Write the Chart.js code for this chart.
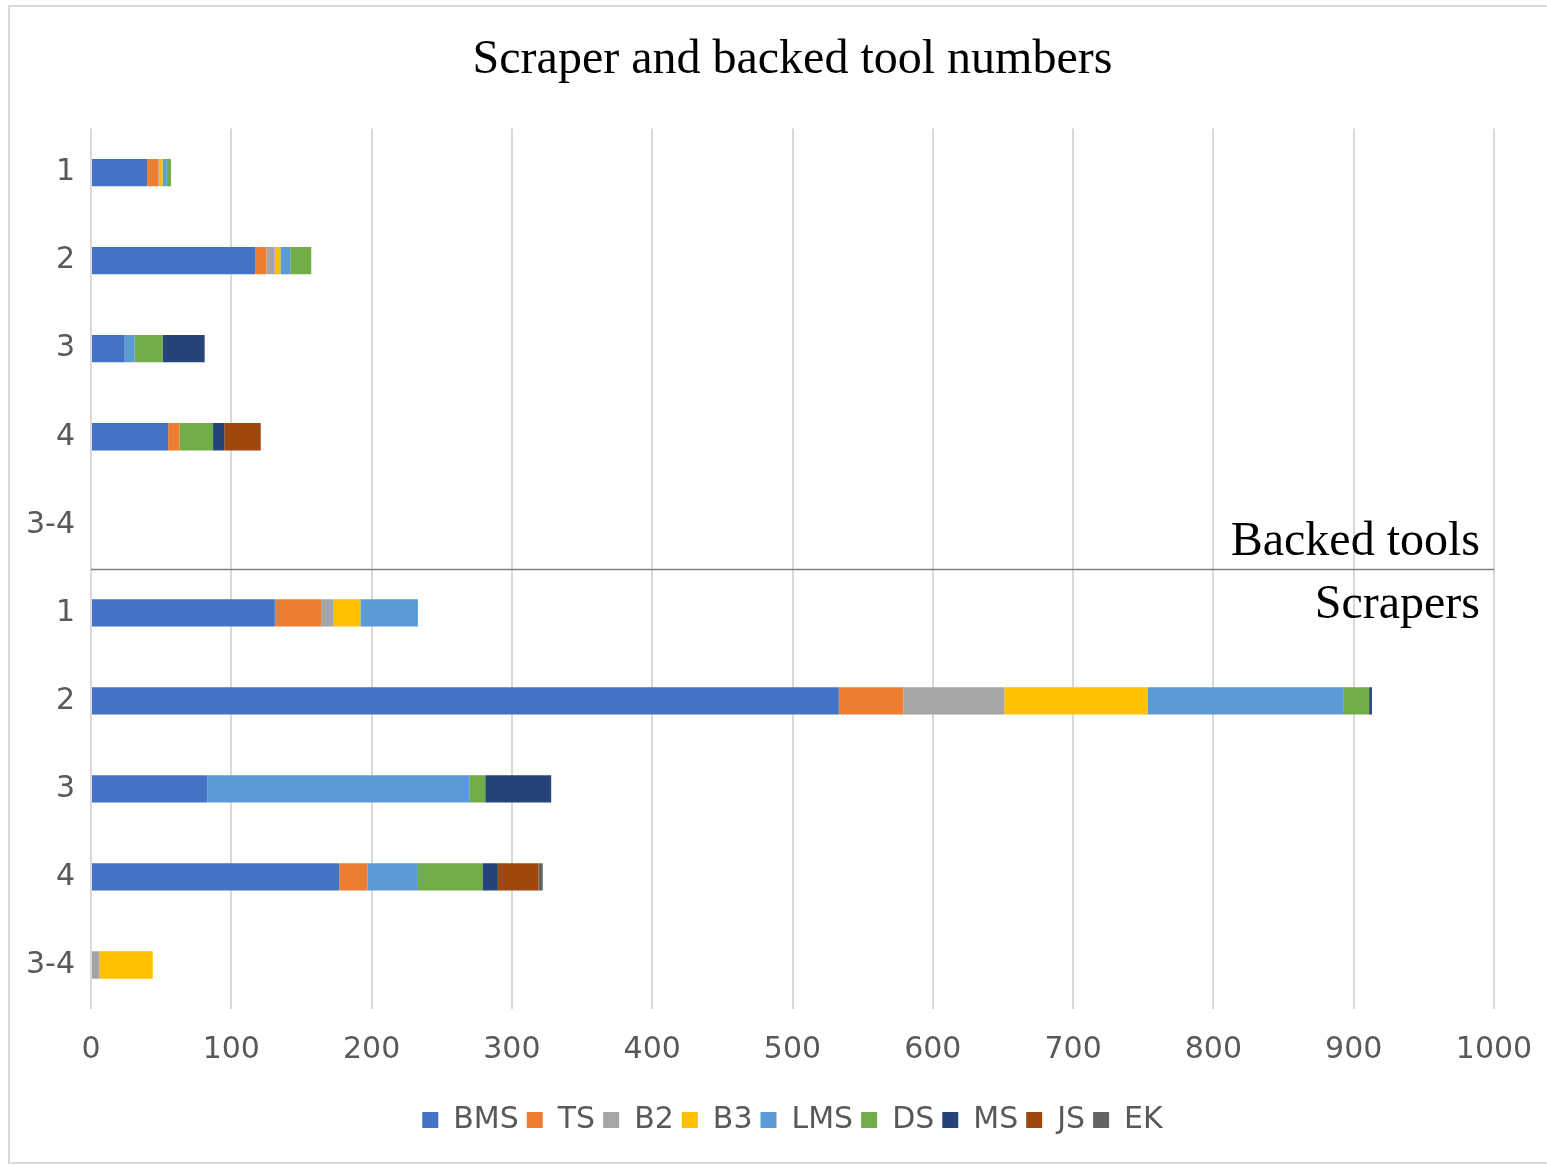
<!DOCTYPE html>
<html>
<head>
<meta charset="utf-8">
<script src="https://cdn.jsdelivr.net/npm/chart.js@4.4.1/dist/chart.umd.min.js"></script>
<style>
  html, body { margin: 0; padding: 0; background: #ffffff; overflow: hidden; }
  canvas { display: block; }
</style>
</head>
<body>
<canvas id="c" width="1547" height="1165"></canvas>
<script>
// Rows 0-4: backed tools, rows 5-9: scrapers
const categories = ['1', '2', '3', '4', '3-4', '1', '2', '3', '4', '3-4'];

const BMS = [40, 117, 24, 55, 0,   131, 533, 83, 177, 0];
const TS  = [8,  8,   0,  8,  0,   33,  46,  0,  20,  0];
const B2  = [1,  6,   0,  0,  0,   9,   72,  0,  0,   6];
const B3  = [2,  4,   0,  0,  0,   19,  102, 0,  0,   38];
const LMS = [3,  7,   7,  0,  0,   41,  140, 187, 36, 0];
const DS  = [3,  15,  20, 24, 0,   0,   18,  11, 46,  0];
const MS  = [0,  0,   30, 8,  0,   0,   2,   47, 11,  0];
const JS  = [0,  0,   0,  26, 0,   0,   0,   0,  29,  0];
const EK  = [0,  0,   0,  0,  0,   0,   0,   0,  3,   0];

const seriesNames = ['BMS', 'TS', 'B2', 'B3', 'LMS', 'DS', 'MS', 'JS', 'EK'];
const seriesValues = [BMS, TS, B2, B3, LMS, DS, MS, JS, EK];
const seriesColors = ['#4472C4', '#ED7D31', '#A5A5A5', '#FFC000', '#5B9BD5',
                      '#70AD47', '#264478', '#9E480E', '#636363'];

const xMin = 0, xMax = 1000, xStep = 100;
const groupNames = ['Backed tools', 'Scrapers'];
const titleText = 'Scraper and backed tool numbers';

const tickColor = '#595959';
const gridColor = '#d9d9d9';
const sansFont = '"DejaVu Sans", Verdana, sans-serif';
const serifFont = '"Liberation Serif", "Times New Roman", serif';

// Outer frame, the divider between the two groups and their captions
const groupDivider = {
  id: 'groupDivider',
  beforeDraw(chart) {
    const ctx = chart.ctx;
    ctx.save();
    ctx.strokeStyle = '#d9d9d9';
    ctx.lineWidth = 2;
    ctx.strokeRect(9, 6, 1600, 1157);
    ctx.restore();
  },
  afterDatasetsDraw(chart) {
    const { ctx, chartArea, scales } = chart;
    const y = scales.y;
    const yy = Math.round((y.getPixelForValue(4) + y.getPixelForValue(5)) / 2) + 0.5;
    ctx.save();
    ctx.strokeStyle = '#7f7f7f';
    ctx.lineWidth = 1.5;
    ctx.beginPath();
    ctx.moveTo(chartArea.left, yy);
    ctx.lineTo(chartArea.right, yy);
    ctx.stroke();
    ctx.font = '48px ' + serifFont;
    ctx.fillStyle = '#000000';
    ctx.textAlign = 'right';
    ctx.textBaseline = 'alphabetic';
    ctx.fillText(groupNames[0], chartArea.right - 14, yy - 15);
    ctx.fillText(groupNames[1], chartArea.right - 14, yy + 48);
    ctx.restore();
  }
};

new Chart(document.getElementById('c'), {
  type: 'bar',
  data: {
    labels: categories,
    datasets: seriesNames.map((name, i) => ({
      label: name,
      data: seriesValues[i],
      backgroundColor: seriesColors[i],
      borderWidth: 0,
      categoryPercentage: 1.0,
      barPercentage: 0.31
    }))
  },
  options: {
    indexAxis: 'y',
    responsive: false,
    animation: false,
    layout: { padding: { left: 20, right: 53, top: 0, bottom: 20 } },
    scales: {
      x: {
        stacked: true,
        min: xMin,
        max: xMax,
        ticks: {
          stepSize: xStep,
          color: tickColor,
          font: { family: sansFont, size: 30 },
          padding: 23,
          callback: (v) => String(v)
        },
        grid: { color: gridColor, lineWidth: 2, drawTicks: false },
        border: { display: false },
        afterFit(scale) {
          scale.paddingLeft = 0;
          scale.paddingRight = 0;
          scale.height += 6;
        }
      },
      y: {
        stacked: true,
        ticks: {
          color: tickColor,
          font: { family: sansFont, size: 30 },
          padding: 16
        },
        grid: { display: false, drawTicks: false },
        border: { display: false },
        afterFit(scale) { scale.width = 71; }
      }
    },
    plugins: {
      title: {
        display: true,
        fullSize: false,
        text: titleText,
        color: '#000000',
        font: { family: serifFont, size: 48, weight: 'normal' },
        padding: { top: 32, bottom: 39 }
      },
      legend: {
        position: 'bottom',
        fullSize: false,
        labels: {
          color: tickColor,
          font: { family: sansFont, size: 30 },
          boxWidth: 16,
          boxHeight: 16,
          padding: 8
        }
      },
      tooltip: { enabled: false }
    }
  },
  plugins: [groupDivider]
});
</script>
</body>
</html>
